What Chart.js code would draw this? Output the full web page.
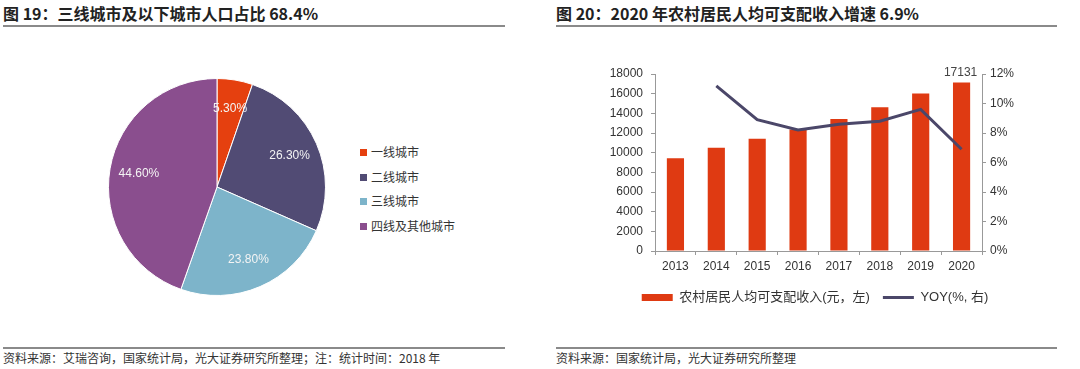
<!DOCTYPE html>
<html>
<head>
<meta charset="utf-8">
<script src="https://cdn.jsdelivr.net/npm/chart.js@4"></script>
<style>
  body { margin: 0; width: 1080px; height: 369px; background: #fff; position: relative; overflow: hidden;
         font-family: 'Liberation Sans', 'Noto Sans CJK SC', sans-serif; color: #333; }
  .title { position: absolute; top: 3px; font-size: 16px; font-weight: bold; color: #222;
           font-family: 'Noto Sans CJK SC', sans-serif; line-height: 20px; }
  .rule { position: absolute; height: 2px; background: #8a8a8a; }
  .foot { position: absolute; top: 349px; font-size: 12px; color: #333; line-height: 18px;
          font-family: 'Noto Sans CJK SC', sans-serif; }
  .box { position: absolute; }
  #pieLegend { position: absolute; left: 360px; top: 143px; font-size: 12px; color: #333;
               font-family: 'Noto Sans CJK SC', sans-serif; }
  #pieLegend div { height: 24.5px; line-height: 18px; }
  #pieLegend span { display: inline-block; width: 7px; height: 7px; margin-right: 4px; vertical-align: 1px; }
</style>
</head>
<body>
<div class="title" style="left:3px">图 19：三线城市及以下城市人口占比 68.4%</div>
<div class="rule" style="left:3px; width:502px; top:25px"></div>
<div class="title" style="left:556px">图 20：2020 年农村居民人均可支配收入增速 6.9%</div>
<div class="rule" style="left:556px; width:501px; top:25px"></div>

<div class="box" style="left:97px; top:67px; width:240px; height:240px"><canvas id="pieChart"></canvas></div>
<div id="pieLegend"></div>

<div class="box" style="left:590px; top:58px; width:470px; height:257px"><canvas id="comboChart"></canvas></div>

<div class="rule" style="left:3px; width:502px; top:347px"></div>
<div class="foot" style="left:3px">资料来源：艾瑞咨询，国家统计局，光大证券研究所整理；注：统计时间：2018 年</div>
<div class="rule" style="left:556px; width:501px; top:347px"></div>
<div class="foot" style="left:556px">资料来源：国家统计局，光大证券研究所整理</div>

<script>
// Pie - city tiers
const cityTiers = ['一线城市', '二线城市', '三线城市', '四线及其他城市'];
const cityShare = [5.3, 26.3, 23.8, 44.6];
const tierColors = ['#E5400F', '#514B74', '#7DB4CA', '#8A4E8E'];

// Combo - rural income
const years = ['2013', '2014', '2015', '2016', '2017', '2018', '2019', '2020'];
const ruralIncome = [9430, 10489, 11422, 12363, 13432, 14617, 16021, 17131];
const incomeYoy = [null, 11.2, 8.9, 8.2, 8.6, 8.8, 9.6, 6.9];
const incomeTicks = [0, 2000, 4000, 6000, 8000, 10000, 12000, 14000, 16000, 18000];
const yoyTicks = [0, 2, 4, 6, 8, 10, 12];

const FONT = "'Liberation Sans', 'Noto Sans CJK SC', sans-serif";

// legend for the pie
document.getElementById('pieLegend').innerHTML = cityTiers.map((t, i) =>
    '<div><span style="background:' + tierColors[i] + '"></span>' + t + '</div>').join('');

const pieLabels = {
    id: 'pieLabels',
    afterDatasetsDraw(chart) {
        const ctx = chart.ctx;
        const meta = chart.getDatasetMeta(0);
        ctx.save();
        ctx.fillStyle = '#f4f4f4';
        ctx.font = '12px ' + FONT;
        ctx.textAlign = 'center';
        ctx.textBaseline = 'middle';
        meta.data.forEach((arc, i) => {
            const p = arc.getProps(['x', 'y', 'startAngle', 'endAngle', 'outerRadius'], true);
            const mid = (p.startAngle + p.endAngle) / 2;
            const r = p.outerRadius * 0.73;
            ctx.fillText(cityShare[i].toFixed(2) + '%', p.x + Math.cos(mid) * r, p.y + Math.sin(mid) * r);
        });
        ctx.restore();
    }
};

new Chart(document.getElementById('pieChart').getContext('2d'), {
    type: 'pie',
    data: {
        labels: cityTiers,
        datasets: [{
            data: cityShare,
            backgroundColor: tierColors,
            borderColor: '#fff',
            borderWidth: 1
        }]
    },
    options: {
        responsive: true,
        maintainAspectRatio: false,
        animation: false,
        layout: { padding: 11 },
        plugins: { legend: { display: false }, tooltip: { enabled: false } }
    },
    plugins: [pieLabels]
});

// value label over the last bar
const lastBarLabel = {
    id: 'lastBarLabel',
    afterDatasetsDraw(chart) {
        const ctx = chart.ctx;
        const bar = chart.getDatasetMeta(0).data[ruralIncome.length - 1];
        ctx.save();
        ctx.fillStyle = '#444';
        ctx.font = '12px ' + FONT;
        ctx.textAlign = 'center';
        ctx.textBaseline = 'bottom';
        ctx.fillText(String(ruralIncome[ruralIncome.length - 1]), bar.x - 1, bar.y - 4);
        ctx.restore();
    }
};

const axisGrid = { display: true, drawOnChartArea: false, drawTicks: true, tickLength: 4, color: '#999' };
const tickFont = { family: FONT, size: 12 };

new Chart(document.getElementById('comboChart').getContext('2d'), {
    data: {
        labels: years,
        datasets: [{
            type: 'bar',
            label: '农村居民人均可支配收入(元，左)',
            data: ruralIncome,
            backgroundColor: '#DF3A12',
            yAxisID: 'y',
            categoryPercentage: 1,
            barPercentage: 0.42,
            order: 2,
            pointStyle: 'rect'
        }, {
            type: 'line',
            label: 'YOY(%, 右)',
            data: incomeYoy,
            borderColor: '#4B4769',
            backgroundColor: '#4B4769',
            borderWidth: 3,
            pointRadius: 0,
            tension: 0,
            yAxisID: 'y1',
            order: 1,
            pointStyle: 'line'
        }]
    },
    options: {
        responsive: true,
        maintainAspectRatio: false,
        animation: false,
        layout: { padding: { top: 16, left: 0, right: 20, bottom: 1 } },
        scales: {
            x: {
                grid: axisGrid,
                border: { color: '#999' },
                ticks: { color: '#333', font: tickFont, padding: 4 },
                afterFit(s) { s.height = 27; }
            },
            y: {
                position: 'left',
                min: 0, max: 18000,
                afterBuildTicks(s) { s.ticks = incomeTicks.map(v => ({ value: v })); },
                grid: axisGrid,
                border: { color: '#999' },
                ticks: { color: '#333', font: tickFont, padding: 8, callback: v => String(v) },
                afterFit(s) { s.width = 65; }
            },
            y1: {
                position: 'right',
                min: 0, max: 12,
                afterBuildTicks(s) { s.ticks = yoyTicks.map(v => ({ value: v })); },
                grid: axisGrid,
                border: { color: '#999' },
                ticks: { color: '#333', font: tickFont, padding: 4, callback: v => v + '%' },
                afterFit(s) { s.width = 58; }
            }
        },
        plugins: {
            tooltip: { enabled: false },
            legend: {
                position: 'bottom',
                labels: {
                    usePointStyle: true,
                    pointStyleWidth: 31,
                    boxHeight: 7,
                    padding: 13,
                    color: '#333',
                    font: { family: FONT, size: 13 },
                    sort: (a, b) => a.datasetIndex - b.datasetIndex
                }
            }
        }
    },
    plugins: [lastBarLabel]
});
</script>
</body>
</html>
